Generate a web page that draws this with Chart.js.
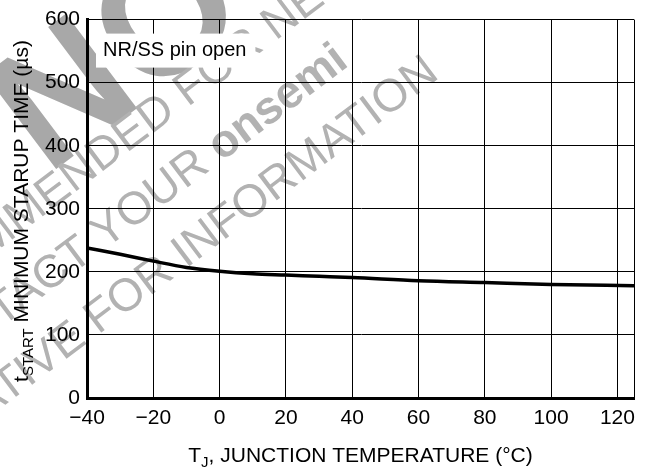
<!DOCTYPE html>
<html>
<head>
<meta charset="utf-8">
<script src="https://cdn.jsdelivr.net/npm/chart.js@4"></script>
<style>
  html, body { margin: 0; padding: 0; background: #fff; }
  #wrap { width: 646px; height: 469px; position: relative; }
</style>
</head>
<body>
<div id="wrap"><canvas id="chart"></canvas></div>
<script>
// Junction temperature (°C) and minimum startup time (µs)
const temperatures = [-40, -30, -20, -10, 0, 10, 20, 30, 40, 60, 80, 100, 125];
const startTimes = [238, 228, 217, 207, 201, 197, 195, 193, 191, 186, 183, 180, 178];

const tempTicks = [-40, -20, 0, 20, 40, 60, 80, 100, 120];
const timeTicks = [0, 100, 200, 300, 400, 500, 600];

const noteText = "NR/SS pin open";
const bigMark = "NOT";
const markLine1 = ["NOT RECOMMENDED ", "FOR NEW DESIGN"];
const markLine2 = ["CONTACT YOUR ", "onsemi"];
const markLine3 = "REPRESENTATIVE FOR INFORMATION";

const FONT = '"Liberation Sans", Arial, Helvetica, sans-serif';
const DEG = Math.PI / 180;
const STAMP_ANGLE = -37 * DEG;

// gray diagonal stamp behind the grid
const stampPlugin = {
  id: "stamp",
  beforeDraw(chart) {
    const ctx = chart.ctx;
    ctx.save();
    ctx.fillStyle = "#fff";
    ctx.fillRect(0, 0, chart.width, chart.height);
    ctx.textBaseline = "alphabetic";

    ctx.save();
    ctx.fillStyle = "#a8a8a8";
    ctx.translate(47, 176);
    ctx.rotate(STAMP_ANGLE);
    ctx.font = "bold 172px " + FONT;
    ctx.fillText(bigMark, 0, 0);
    ctx.restore();

    ctx.fillStyle = "#b2b2b2";
    ctx.translate(350, 65);
    ctx.rotate(STAMP_ANGLE);

    // line 1, split where "FOR" begins
    ctx.font = "46px " + FONT;
    const w1 = ctx.measureText(markLine1[0]).width;
    ctx.fillText(markLine1[0], -155 - w1, -64);
    ctx.fillText(markLine1[1], -155, -64);

    // line 2, right aligned with bold brand name
    ctx.font = "bold 46px " + FONT;
    const wb = ctx.measureText(markLine2[1]).width;
    ctx.fillText(markLine2[1], -wb, 0);
    ctx.font = "46px " + FONT;
    const wa = ctx.measureText(markLine2[0]).width;
    ctx.fillText(markLine2[0], -wb - wa, 0);

    // line 3
    const w3 = ctx.measureText(markLine3).width;
    ctx.fillText(markLine3, 65 - w3, 64);
    ctx.restore();
  },
  afterDraw(chart) {
    const ctx = chart.ctx;
    const area = chart.chartArea;
    ctx.save();

    // note box in the upper left corner
    ctx.font = "20px " + FONT;
    const tw = ctx.measureText(noteText).width;
    ctx.fillStyle = "#fff";
    ctx.fillRect(area.left + 9, area.top + 14, tw + 16, 34);
    ctx.fillStyle = "#000";
    ctx.textBaseline = "middle";
    ctx.fillText(noteText, area.left + 16, area.top + 31);

    // x axis title with subscript J
    ctx.textBaseline = "alphabetic";
    const xParts = [["T", 21, 0], ["J", 15, 5], [", JUNCTION TEMPERATURE (\u00B0C)", 21, 0]];
    drawParts(ctx, xParts, (area.left + area.right) / 2, 462);

    // y axis title, rotated, with subscript START
    ctx.save();
    ctx.translate(28, 211);
    ctx.rotate(-90 * DEG);
    const yParts = [["t", 21, 0], ["START", 15, 5], [" MINIMUM STARUP TIME (\u00B5s)", 21, 0]];
    drawParts(ctx, yParts, 0, 0);
    ctx.restore();

    ctx.restore();
  }
};

function drawParts(ctx, parts, cx, baseY) {
  let total = 0;
  parts.forEach(p => {
    ctx.font = p[1] + "px " + FONT;
    total += ctx.measureText(p[0]).width;
  });
  let x = cx - total / 2;
  ctx.fillStyle = "#000";
  parts.forEach(p => {
    ctx.font = p[1] + "px " + FONT;
    ctx.fillText(p[0], x, baseY + p[2]);
    x += ctx.measureText(p[0]).width;
  });
}

const minus = v => String(v).replace("-", "\u2212");

new Chart(document.getElementById("chart"), {
  type: "line",
  data: {
    datasets: [
      {
        data: temperatures.map((t, i) => ({ x: t, y: startTimes[i] })),
        borderColor: "#000",
        borderWidth: 3.5,
        pointRadius: 0,
        fill: false,
        cubicInterpolationMode: "monotone",
      },
    ],
  },
  options: {
    responsive: true,
    maintainAspectRatio: false,
    animation: false,
    layout: { padding: { top: 15, right: 12, left: 0, bottom: 0 } },
    plugins: {
      legend: { display: false },
      tooltip: { enabled: false },
    },
    scales: {
      x: {
        type: "linear",
        min: -40,
        max: 125,
        afterBuildTicks: (scale) => {
          scale.ticks = [...tempTicks, 125].map(v => ({ value: v }));
        },
        afterFit: (scale) => { scale.height = 71; },
        grid: { color: "#000", lineWidth: 1, drawTicks: false },
        border: { color: "#000", width: 3 },
        ticks: {
          color: "#000",
          font: { family: FONT, size: 21 },
          padding: 8,
          maxRotation: 0,
          autoSkip: false,
          callback: (v) => (tempTicks.includes(v) ? minus(v) : ""),
        },
      },
      y: {
        min: 0,
        max: 600,
        afterBuildTicks: (scale) => {
          scale.ticks = timeTicks.map(v => ({ value: v }));
        },
        afterFit: (scale) => { scale.width = 87; },
        grid: { color: "#000", lineWidth: 1, drawTicks: false },
        border: { color: "#000", width: 3 },
        ticks: {
          color: "#000",
          font: { family: FONT, size: 21 },
          padding: 7,
          callback: (v) => String(v),
        },
      },
    },
  },
  plugins: [stampPlugin],
});
</script>
</body>
</html>
